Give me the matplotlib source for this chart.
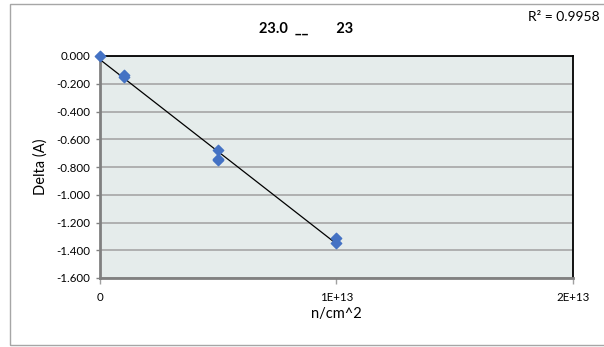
import matplotlib
matplotlib.use("Agg")
import matplotlib.pyplot as plt
import numpy as np
from matplotlib.patches import Rectangle

fluence = [0, 1e12, 1e12, 5e12, 5e12, 5e12, 1e13, 1e13]
delta = [0.000, -0.14, -0.15, -0.68, -0.74, -0.75, -1.31, -1.35]
y_ticks = [0.0, -0.2, -0.4, -0.6, -0.8, -1.0, -1.2, -1.4, -1.6]
x_ticks = [0, 1e13, 2e13]
x_tick_labels = ["0", "1E+13", "2E+13"]
title = "23.0  __        23"
r2_text = "R² = 0.9958"

plt.rcParams['font.family'] = ['Lato', 'DejaVu Sans']

fig = plt.figure(figsize=(6.04, 3.47), dpi=100)
fig.patch.set_facecolor("white")
fig.patches.append(Rectangle((10/604, 2/347), 600/604, 341/347, transform=fig.transFigure,
                             fill=False, edgecolor="#A6A6A6", linewidth=1.0))

ax = fig.add_axes([100/604, 1 - 278/347, 473/604, 222/347])
ax.set_facecolor("#E5ECEB")

ax.set_xlim(0, 2e13)
ax.set_ylim(-1.6, 0.0)

ax.set_yticks(y_ticks)
ax.set_yticklabels([f"{v:.3f}" for v in y_ticks], fontsize=8.3)
ax.set_xticks(x_ticks)
ax.set_xticklabels(x_tick_labels, fontsize=8.3)
ax.tick_params(axis='y', length=3, color="#808080", width=1, pad=4)
ax.tick_params(axis='x', length=4, color="#A0A0A0", width=1, pad=6)

ax.grid(axis='y', color="#A6A6A6", linewidth=1.2)
ax.set_axisbelow(True)

for s in ['left', 'bottom']:
    ax.spines[s].set_color("#808080")
    ax.spines[s].set_linewidth(2.0)
for s in ['top', 'right']:
    ax.spines[s].set_color("black")
    ax.spines[s].set_linewidth(1.3)

# linear trend line
xs = np.array(fluence)
ys = np.array(delta)
m, b = np.polyfit(xs, ys, 1)
xl = np.array([0, 1e13])
ax.plot(xl, m * xl + b, color="black", linewidth=0.9, zorder=3)

ax.scatter(fluence, delta, marker='D', s=28, color="#4472C4", zorder=4, clip_on=False)

ax.set_ylabel("Delta (A)", fontsize=10.5, labelpad=6)
ax.set_xlabel("n/cm^2", fontsize=10.5, labelpad=3)

fig.text(306/604, 1 - 29/347, title, fontsize=10.5, fontweight='bold', ha='center', va='center')
fig.text(600/604, 1 - 17/347, r2_text, fontsize=10, ha='right', va='center')

fig.savefig("out.png", dpi=100)
